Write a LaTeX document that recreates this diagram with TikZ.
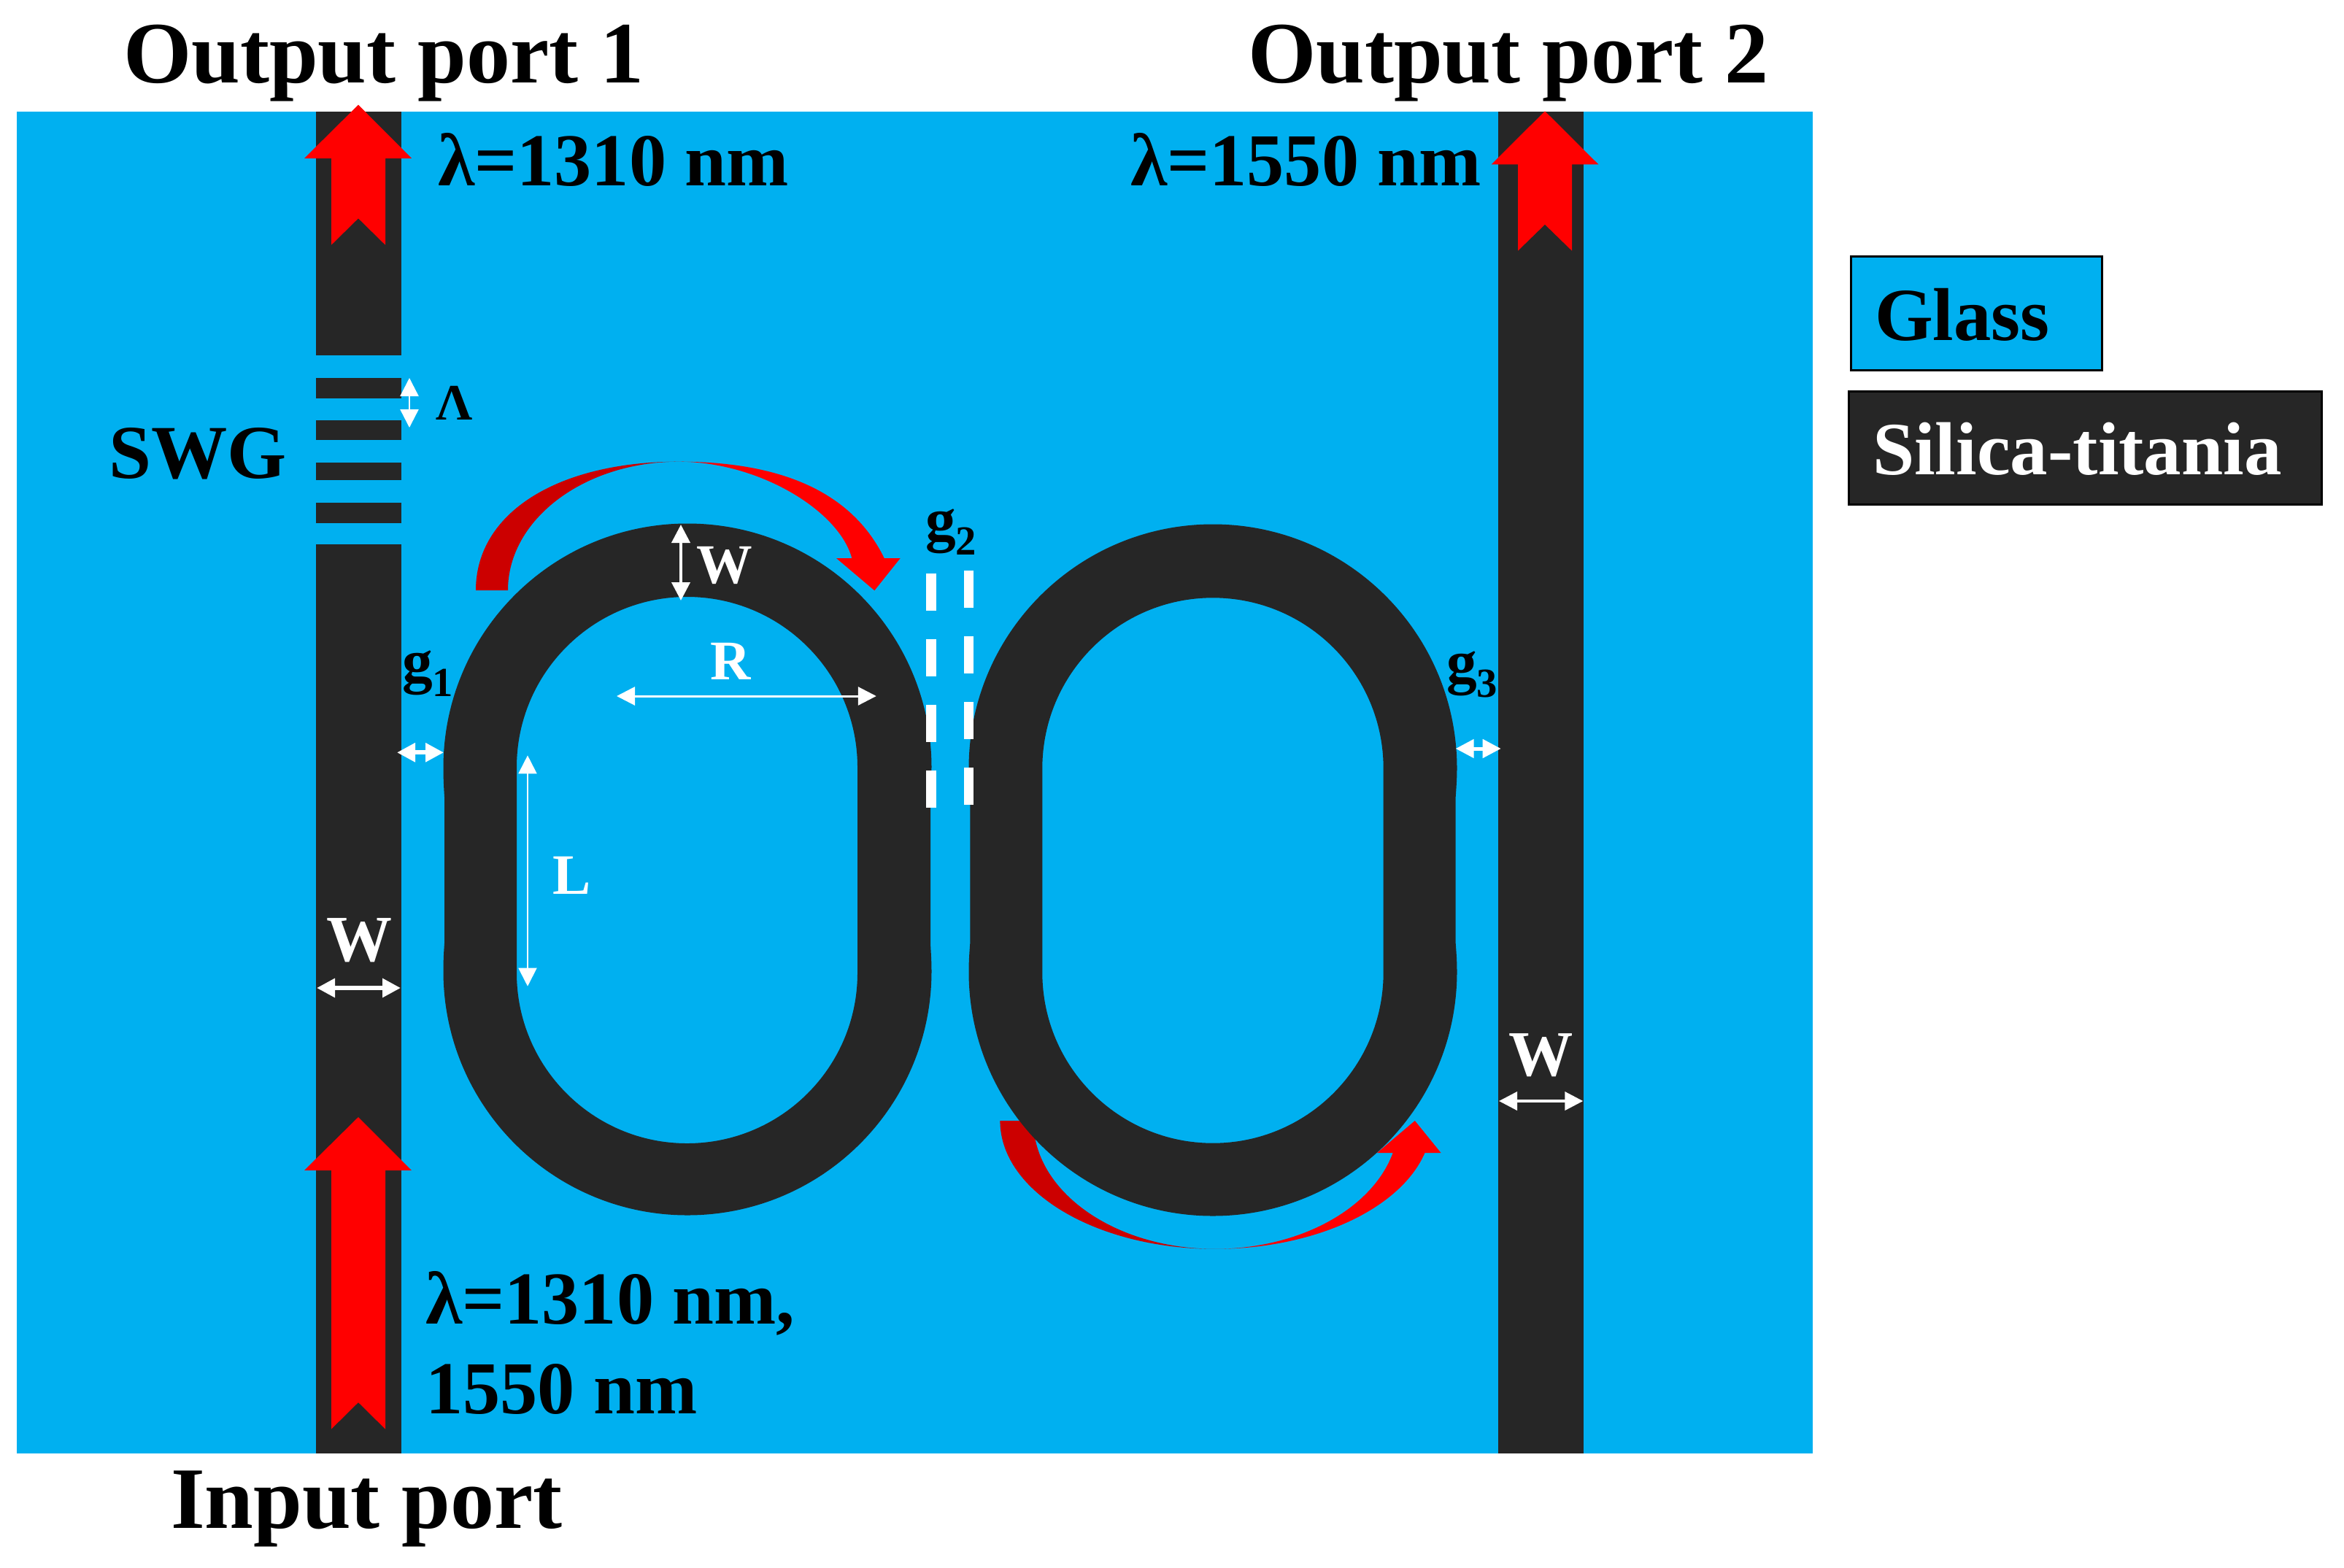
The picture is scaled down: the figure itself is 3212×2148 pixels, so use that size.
\documentclass[tikz,border=0pt]{standalone}
\usepackage{fontspec}
\setmainfont{Liberation Serif}
\usetikzlibrary{arrows.meta}
\definecolor{glass}{HTML}{00B0F0}
\definecolor{core}{HTML}{262626}
\definecolor{darkred}{HTML}{CC0000}
\newcommand{\px}{0.3pt}
\newcommand{\gsub}[2]{g\raisebox{-6pt}{\fontsize{17}{20}\selectfont #1}}
\tikzset{
  lab/.style={anchor=base west,inner sep=0pt,outer sep=0pt,font=\bfseries\fontsize{#1}{#1}\selectfont},
  lab/.default=30,
  dim/.style={draw=white,line width=#1*\px,
    {Triangle[length=25*\px,width=25*\px,fill=white]}-{Triangle[length=25*\px,width=25*\px,fill=white]}},
  dim/.default=3,
  core/.style={fill=core,draw=none},
  redfill/.style={fill=red,draw=none},
  darkfill/.style={fill=darkred,draw=none},
  gapdash/.style={fill=white,draw=none},
  legend/.style={draw=black,line width=3*\px,minimum width=0pt},
}
\begin{document}
\begin{tikzpicture}[x=\px,y=-\px]
\useasboundingbox (0,0) rectangle (3212,2148);
% background
\fill[glass] (23,153) rectangle (2484,1992);
% waveguides
\path[core] (433,153) rectangle (550,486.5);
\foreach \a/\b in {517.5/546,576/602.5,633.5/658,689/716.5}{\path[core] (433,\a) rectangle (550,\b);}
\path[core] (433,746) rectangle (550,1992);
\path[core] (2053.3,153) rectangle (2170.3,1992);
% curved arrows (under the rings)
\path[darkfill] (652,809) .. controls (652,703.4) and (763.2,632.7) .. (930,632.7)
   arc[start angle=270,end angle=180,x radius=234,y radius=176.3] -- cycle;
\path[redfill] (930,632.7) .. controls (1095,632.7) and (1175,690) .. (1211.7,765)
   -- (1233.7,765) -- (1198.3,809.3) -- (1146,765) -- (1167.3,765)
   .. controls (1150,700) and (1040,632.7) .. (930,632.7) -- cycle;
\path[darkfill] (1370.4,1536) arc[start angle=180,end angle=90,x radius=294.6,y radius=175.7]
   arc[start angle=90,end angle=180,x radius=249,y radius=175.7] -- cycle;
\path[redfill] (1665,1711.7) arc[start angle=90,end angle=14.5,x radius=297,y radius=175.7]
   -- (1974.5,1580) -- (1938.8,1536) -- (1887,1580) -- (1908.7,1580)
   arc[start angle=14.5,end angle=90,x radius=251.7,y radius=175.7] -- cycle;
% rings
\path[core,even odd rule]
  (609,1092) .. controls (608,1078) and (607.5,1065) .. (607.5,1052)
  arc[start angle=180,end angle=360,radius=334.5]
  .. controls (1276,1065) and (1275.7,1078) .. (1275,1092) -- (1275,1293)
  .. controls (1275.7,1306) and (1276.5,1318) .. (1276.5,1331)
  arc[start angle=0,end angle=180,radius=334.5]
  .. controls (607.5,1318) and (608,1306) .. (609,1293) -- cycle
  (708,1051.5) arc[start angle=180,end angle=360,radius=233.5] -- (1175,1333.5)
  arc[start angle=0,end angle=180,radius=233.5] -- cycle;
\path[core,even odd rule]
  (1329.3,1092) .. controls (1328.3,1078) and (1327.5,1065) .. (1327.5,1053)
  arc[start angle=180,end angle=360,radius=334.5]
  .. controls (1996.5,1065) and (1995.7,1078) .. (1994.7,1092) -- (1994.7,1293)
  .. controls (1995.7,1306) and (1996.5,1318) .. (1996.5,1332)
  arc[start angle=0,end angle=180,radius=334.5]
  .. controls (1327.5,1318) and (1328.3,1306) .. (1329.3,1293) -- cycle
  (1428.3,1053) arc[start angle=180,end angle=360,radius=233.7] -- (1895.7,1333)
  arc[start angle=0,end angle=180,radius=233.7] -- cycle;
% straight red arrows
\foreach \tipy/\basey/\notchy/\endy in {143.7/217/299.3/335.7,1531/1604/1922/1958.6}{
  \path[redfill] (491,\tipy) -- (564,\basey) -- (528,\basey) -- (528,\endy) -- (491,\notchy)
    -- (454,\endy) -- (454,\basey) -- (417,\basey) -- cycle;}
\path[redfill] (2117,152.3) -- (2190.3,225.3) -- (2154,225.3) -- (2154,343.7) -- (2117,307.7)
    -- (2080,343.7) -- (2080,225.3) -- (2043.7,225.3) -- cycle;
% g2 dashes
\foreach \y in {785.7,875.7,965.7,1055.7}{\path[gapdash] (1269.3,\y) rectangle (1282.7,\y+51);}
\foreach \y in {782,872,961.7,1052}{\path[gapdash] (1321,\y) rectangle (1334,\y+51);}
% dimension arrows
\coordinate (la) at (561,518);   \coordinate (lb) at (561,586);
\coordinate (wa) at (933,719);   \coordinate (wb) at (933,823);
\coordinate (ra) at (845,954);   \coordinate (rb) at (1200.8,954);
\coordinate (ga) at (544,1031.3);\coordinate (gb) at (608,1031.3);
\coordinate (ha) at (1994.7,1026);\coordinate (hb) at (2056.7,1026);
\coordinate (ma) at (723,1035.3);\coordinate (mb) at (723,1351.7);
\coordinate (pa) at (434,1354);  \coordinate (pb) at (549,1354);
\coordinate (qa) at (2054,1509); \coordinate (qb) at (2169.3,1509);
\draw[dim=2.5] (la) -- (lb);
\draw[dim=4] (wa) -- (wb);
\draw[dim=3] (ra) -- (rb);
\draw[dim=6] (ga) -- (gb);
\draw[dim=5] (ha) -- (hb);
\draw[dim=2] (ma) -- (mb);
\draw[dim=6] (pa) -- (pb);
\draw[dim=4] (qa) -- (qb);
% labels
\node[lab=36] (o1) at (169,113) {Output port 1};
\node[lab=36] (o2) at (1710,113) {Output port 2};
\node[lab=36] (in) at (234,2094) {Input port};
\node[lab=30.7] (l1) at (600,254) {λ=1310 nm};
\node[lab=30.7] (l2) at (1549,254) {λ=1550 nm};
\node[lab=30.7] (l3) at (583,1814) {λ=1310 nm,};
\node[lab=30.7] (l4) at (583,1937) {1550 nm};
\node[lab=31.3] (swg) at (149,655) {SWG};
\node[lab=21] (lam) at (597,575) {Λ};
\node[lab=27,text=white] (w1) at (447,1317.7) {W};
\node[lab=23,text=white] (w2) at (954,799) {W};
\node[lab=26.5,text=white] (w3) at (2067,1474) {W};
\node[lab=23,text=white] (r) at (973,931) {R};
\node[lab=23.5,text=white] (lL) at (757,1225.7) {L};
\node[lab=25] (g1) at (551,934) {\gsub{1}{}};
\node[lab=25] (g2) at (1268,740) {\gsub{2}{}};
\node[lab=25] (g3) at (1982,935) {\gsub{3}{}};
% legend
\draw[legend,fill=glass] (2536.5,351.5) rectangle (2880.5,507.5);
\draw[legend,fill=core] (2533,536.5) rectangle (3181,691.5);
\node[lab=30.8] (gl) at (2569,466) {Glass};
\node[lab=30.9,text=white] (st) at (2566,650.7) {Silica-titania};
\end{tikzpicture}
\end{document}
